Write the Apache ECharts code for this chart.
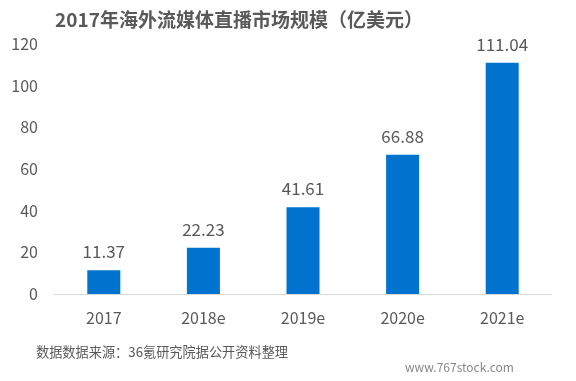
<!DOCTYPE html>
<html><head><meta charset="utf-8">
<script src="https://cdn.jsdelivr.net/npm/echarts@6/dist/echarts.min.js"></script>
<style>html,body{margin:0;padding:0;background:#fff}#c{width:576px;height:381px}</style>
</head><body><div id="c"></div>
<script>
var categories = ['2017', '2018e', '2019e', '2020e', '2021e'];
var values = [11.37, 22.23, 41.61, 66.88, 111.04];
var yTicks = [0, 20, 40, 60, 80, 100, 120];
var titleText = '2017年海外流媒体直播市场规模（亿美元）';
var sourceText = '数据数据来源：36氪研究院据公开资料整理';
var watermark = 'www.767stock.com';
var font = '"Microsoft YaHei","Noto Sans CJK SC","Open Sans",sans-serif';
var chart = echarts.init(document.getElementById('c'));
chart.setOption({
  animation: false,
  title: {text: titleText, left: 234, top: 5, textAlign: 'center',
    textStyle: {fontSize: 19, fontWeight: 'bold', color: '#595959', fontFamily: font}},
  graphic: [
    {type: 'text', left: 36, top: 345, style: {text: sourceText, fontSize: 13.2, fill: '#595959', fontFamily: font}},
    {type: 'text', left: 405, top: 361, style: {text: watermark, fontSize: 12, fill: '#888888', fontFamily: font}}
  ],
  grid: {left: 54, right: 24, top: 44, bottom: 87, containLabel: false},
  xAxis: {type: 'category', data: categories,
    axisLine: {lineStyle: {color: '#d9d9d9', width: 1}}, axisTick: {show: false},
    axisLabel: {fontSize: 16, color: '#595959', margin: 16, fontFamily: font}},
  yAxis: {type: 'value', min: yTicks[0], max: yTicks[yTicks.length - 1], interval: 20,
    axisLine: {show: false}, axisTick: {show: false}, splitLine: {show: false},
    axisLabel: {fontSize: 16, color: '#595959', margin: 16, fontFamily: font}},
  series: [{type: 'bar', data: values, barWidth: 33,
    itemStyle: {color: '#0073CF'},
    label: {show: true, position: 'top', distance: 10, fontSize: 17, color: '#595959', fontFamily: font,
      formatter: function (p) { return p.value.toFixed(2); }}}]
});
</script></body></html>
